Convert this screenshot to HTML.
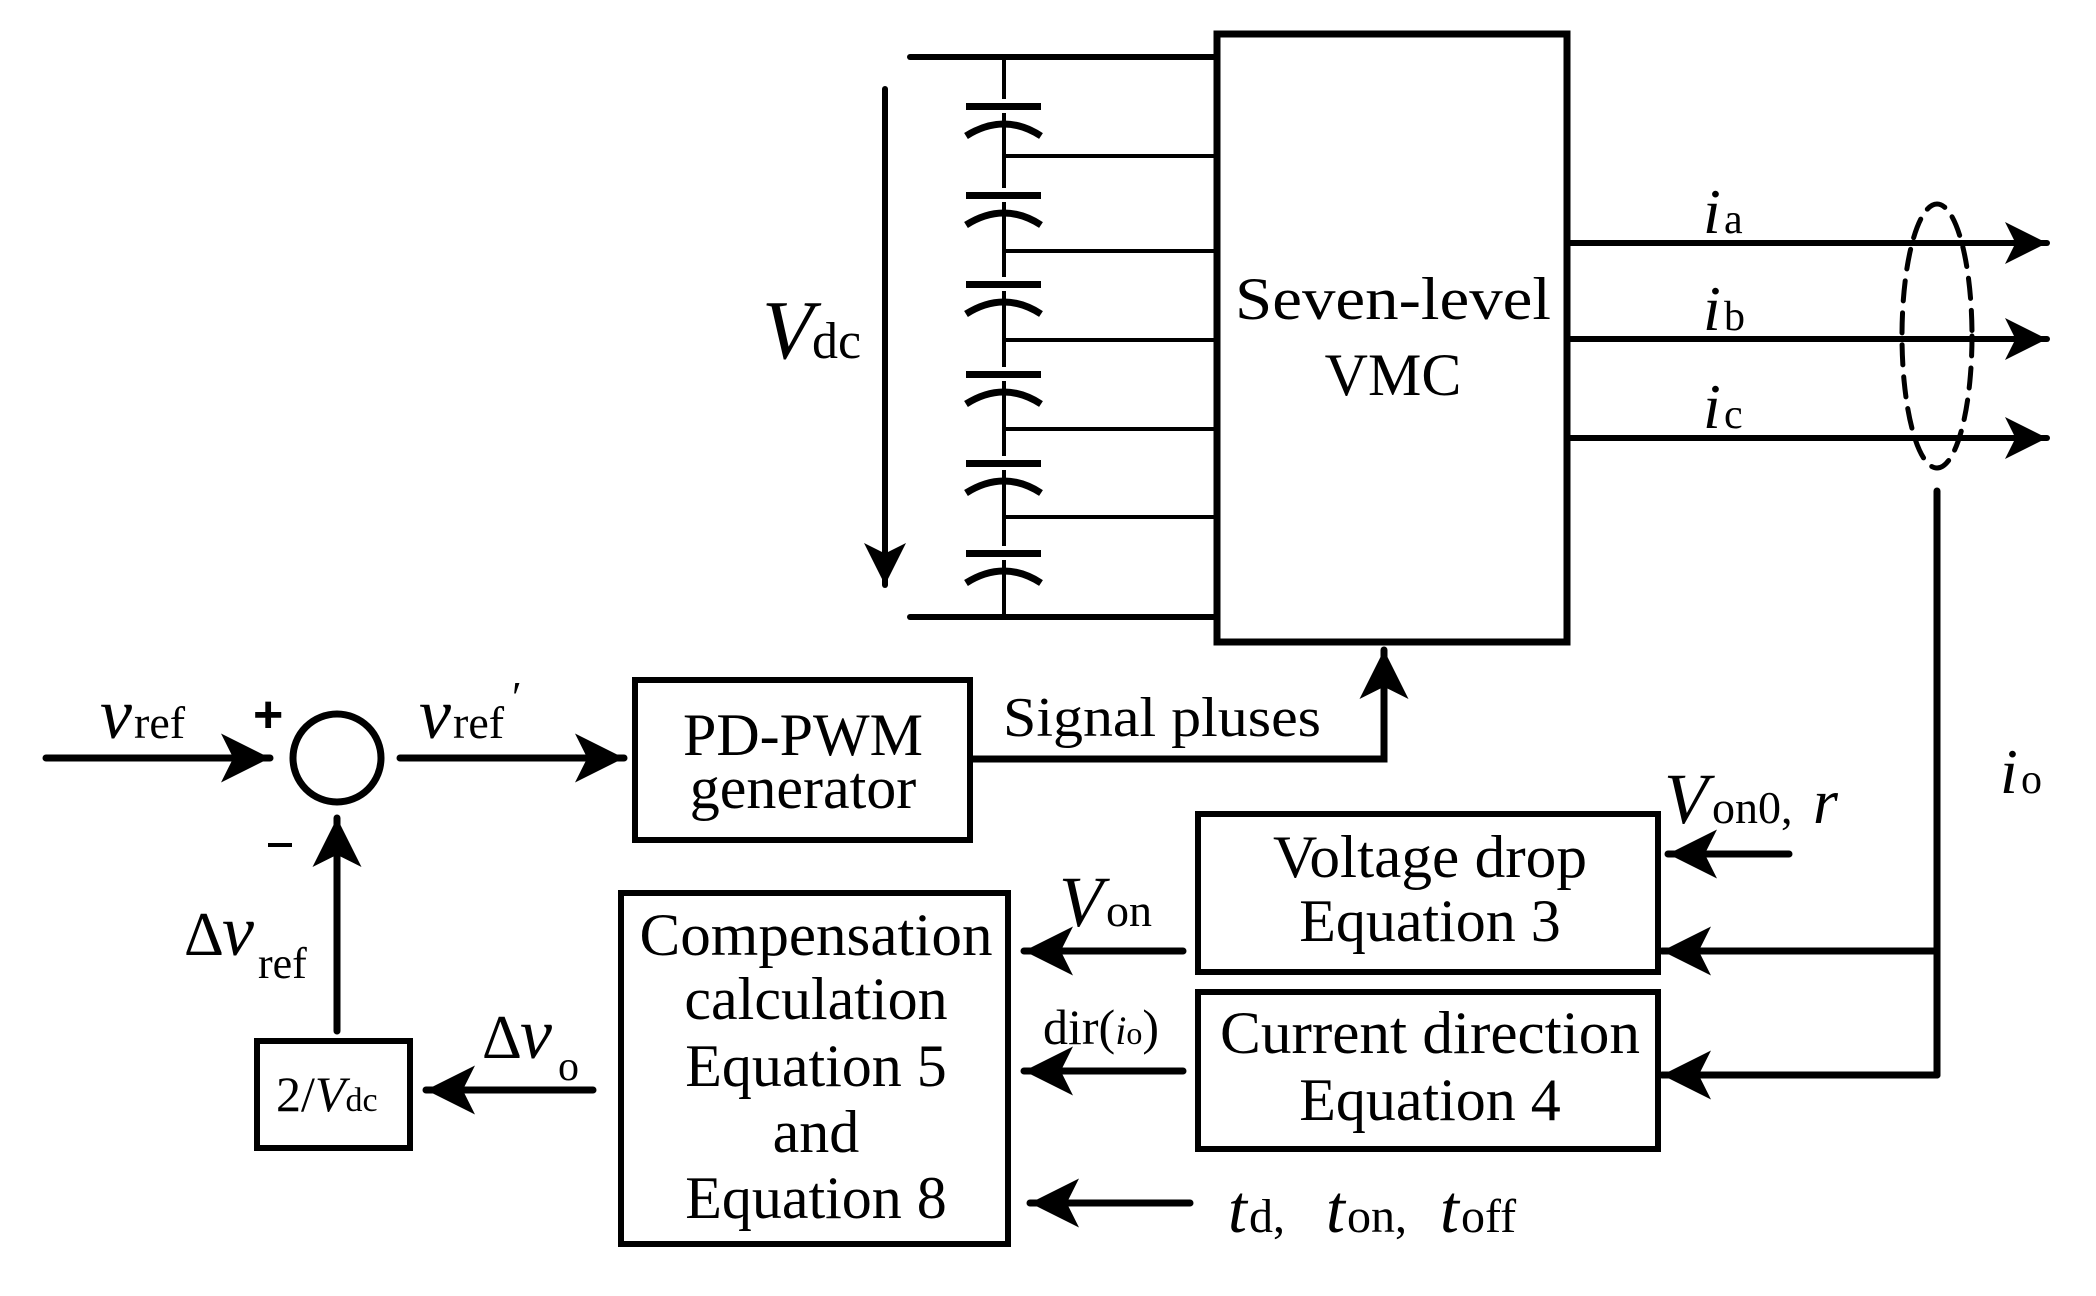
<!DOCTYPE html>
<html><head><meta charset="utf-8"><style>html,body{margin:0;padding:0;background:#fff}svg{display:block}</style></head>
<body>
<svg width="2096" height="1296" viewBox="0 0 2096 1296" xmlns="http://www.w3.org/2000/svg" font-family="Liberation Serif, serif" fill="#000">
<defs>
<marker id="ah" viewBox="0 0 10 10" refX="10" refY="5" markerWidth="7" markerHeight="7" markerUnits="strokeWidth" orient="auto">
<path d="M0,0 L10,5 L0,10 L2.5,5 z"/>
</marker>
</defs>
<g stroke="#000" fill="none" stroke-linecap="round">
<rect x="1217" y="34" width="350" height="608" stroke-width="7"/>
<line x1="910" y1="57" x2="1217" y2="57" stroke-width="6"/>
<line x1="910" y1="617" x2="1217" y2="617" stroke-width="6"/>
<line x1="1004" y1="57" x2="1004" y2="617" stroke-width="4"/>
<line x1="1004" y1="156" x2="1217" y2="156" stroke-width="4"/>
<line x1="1004" y1="251" x2="1217" y2="251" stroke-width="4"/>
<line x1="1004" y1="340" x2="1217" y2="340" stroke-width="4"/>
<line x1="1004" y1="429" x2="1217" y2="429" stroke-width="4"/>
<line x1="1004" y1="517" x2="1217" y2="517" stroke-width="4"/>
</g>
<g>
<rect x="970" y="99" width="70" height="14" fill="#fff"/>
<rect x="970" y="188" width="70" height="14" fill="#fff"/>
<rect x="970" y="277" width="70" height="14" fill="#fff"/>
<rect x="970" y="367" width="70" height="14" fill="#fff"/>
<rect x="970" y="456" width="70" height="14" fill="#fff"/>
<rect x="970" y="546" width="70" height="14" fill="#fff"/>
</g>
<g fill="#000">
<rect x="966" y="103" width="75" height="7"/>
<rect x="966" y="192" width="75" height="7"/>
<rect x="966" y="281" width="75" height="7"/>
<rect x="966" y="371" width="75" height="7"/>
<rect x="966" y="460" width="75" height="7"/>
<rect x="966" y="550" width="75" height="7"/>
</g>
<g stroke="#000" stroke-width="7" fill="none">
<path d="M966,136 Q1004,112 1041,136"/>
<path d="M966,225 Q1004,201 1041,225"/>
<path d="M966,314 Q1004,290 1041,314"/>
<path d="M966,404 Q1004,380 1041,404"/>
<path d="M966,493 Q1004,469 1041,493"/>
<path d="M966,583 Q1004,559 1041,583"/>
</g>
<g stroke="#000" fill="none" stroke-linecap="round">
<line x1="885" y1="89" x2="885" y2="585" stroke-width="6" marker-end="url(#ah)"/>
<line x1="1567" y1="243" x2="2047" y2="243" stroke-width="6" marker-end="url(#ah)"/>
<line x1="1567" y1="339" x2="2047" y2="339" stroke-width="6" marker-end="url(#ah)"/>
<line x1="1567" y1="438" x2="2047" y2="438" stroke-width="6" marker-end="url(#ah)"/>
<ellipse cx="1937" cy="336" rx="35" ry="132" stroke-width="5" stroke-dasharray="20,12"/>
<line x1="1937" y1="491" x2="1937" y2="1075" stroke-width="7"/>
<line x1="1937" y1="951" x2="1662" y2="951" stroke-width="7" marker-end="url(#ah)"/>
<line x1="1937" y1="1075" x2="1662" y2="1075" stroke-width="7" marker-end="url(#ah)"/>
<line x1="1789" y1="854" x2="1668" y2="854" stroke-width="7" marker-end="url(#ah)"/>
<rect x="1198" y="814" width="460" height="158" stroke-width="6"/>
<rect x="1198" y="992" width="460" height="157" stroke-width="6"/>
<rect x="621" y="893" width="387" height="351" stroke-width="6"/>
<rect x="635" y="680" width="335" height="160" stroke-width="6"/>
<rect x="257" y="1041" width="153" height="107" stroke-width="6"/>
<line x1="1183" y1="951" x2="1024" y2="951" stroke-width="7" marker-end="url(#ah)"/>
<line x1="1183" y1="1071" x2="1024" y2="1071" stroke-width="7" marker-end="url(#ah)"/>
<line x1="1190" y1="1203" x2="1030" y2="1203" stroke-width="7" marker-end="url(#ah)"/>
<line x1="593" y1="1090" x2="426" y2="1090" stroke-width="7" marker-end="url(#ah)"/>
<line x1="337" y1="1031" x2="337" y2="818" stroke-width="7" marker-end="url(#ah)"/>
<circle cx="337" cy="758" r="44" stroke-width="7"/>
<line x1="46" y1="758" x2="270" y2="758" stroke-width="7" marker-end="url(#ah)"/>
<line x1="400" y1="758" x2="624" y2="758" stroke-width="7" marker-end="url(#ah)"/>
<polyline points="970,759 1384,759 1384,700" stroke-width="7" stroke-linecap="butt"/>
<line x1="1384" y1="705" x2="1384" y2="650" stroke-width="7" marker-end="url(#ah)"/>
</g>
<g font-size="60" text-anchor="middle">
<text x="1393" y="319" textLength="316" lengthAdjust="spacingAndGlyphs">Seven-level</text>
<text x="1393" y="395">VMC</text>
<text x="803" y="755">PD-PWM</text>
<text x="803" y="808">generator</text>
<text x="816" y="955" textLength="353" lengthAdjust="spacingAndGlyphs">Compensation</text>
<text x="816" y="1019">calculation</text>
<text x="816" y="1086">Equation 5</text>
<text x="816" y="1152">and</text>
<text x="816" y="1218">Equation 8</text>
<text x="1430" y="877" textLength="314" lengthAdjust="spacingAndGlyphs">Voltage drop</text>
<text x="1430" y="941">Equation 3</text>
<text x="1430" y="1053" textLength="420" lengthAdjust="spacingAndGlyphs">Current direction</text>
<text x="1430" y="1120">Equation 4</text>
</g>
<text x="1003" y="736" font-size="56" textLength="318" lengthAdjust="spacingAndGlyphs">Signal pluses</text>
<text x="762" y="358" font-size="84" font-style="italic">V</text>
<text x="812" y="358" font-size="52">dc</text>
<text x="1703" y="233" font-size="64" font-style="italic">i</text><text x="1724" y="233" font-size="42">a</text>
<text x="1703" y="330" font-size="64" font-style="italic">i</text><text x="1724" y="330" font-size="42">b</text>
<text x="1703" y="428" font-size="64" font-style="italic">i</text><text x="1724" y="428" font-size="42">c</text>
<text x="2000" y="793" font-size="64" font-style="italic">i</text><text x="2021" y="793" font-size="42">o</text>
<text x="1664" y="823" font-size="72" font-style="italic">V</text><text x="1712" y="823" font-size="46">on0,</text><text x="1813" y="823" font-size="64" font-style="italic">r</text>
<text x="1059" y="926" font-size="72" font-style="italic">V</text><text x="1106" y="926" font-size="46">on</text>
<text x="1043" y="1044" font-size="50">dir(<tspan font-style="italic" font-size="40">i</tspan><tspan font-size="32">o</tspan>)</text>
<text x="1228" y="1232" font-size="68" font-style="italic">t</text><text x="1249" y="1232" font-size="48">d,</text>
<text x="1326" y="1232" font-size="68" font-style="italic">t</text><text x="1347" y="1232" font-size="48">on,</text>
<text x="1440" y="1232" font-size="68" font-style="italic">t</text><text x="1461" y="1232" font-size="48">off</text>
<text x="100" y="738" font-size="72" font-style="italic">v</text><text x="134" y="738" font-size="46">ref</text>
<text x="419" y="738" font-size="72" font-style="italic">v</text><text x="453" y="738" font-size="46">ref</text><text x="512" y="712" font-size="44">′</text>
<text x="253" y="732" font-size="52" font-weight="bold" font-family="Liberation Sans, sans-serif">+</text>
<rect x="268" y="843" width="24" height="4"/>
<text x="184" y="955" font-size="62">Δ</text><text x="222" y="955" font-size="72" font-style="italic">v</text><text x="258" y="978" font-size="44">ref</text>
<text x="482" y="1058" font-size="62">Δ</text><text x="520" y="1058" font-size="72" font-style="italic">v</text><text x="558" y="1080" font-size="42">o</text>
<text x="276" y="1111" font-size="50">2/<tspan font-style="italic">V</tspan><tspan font-size="34">dc</tspan></text>
</svg>
</body></html>
